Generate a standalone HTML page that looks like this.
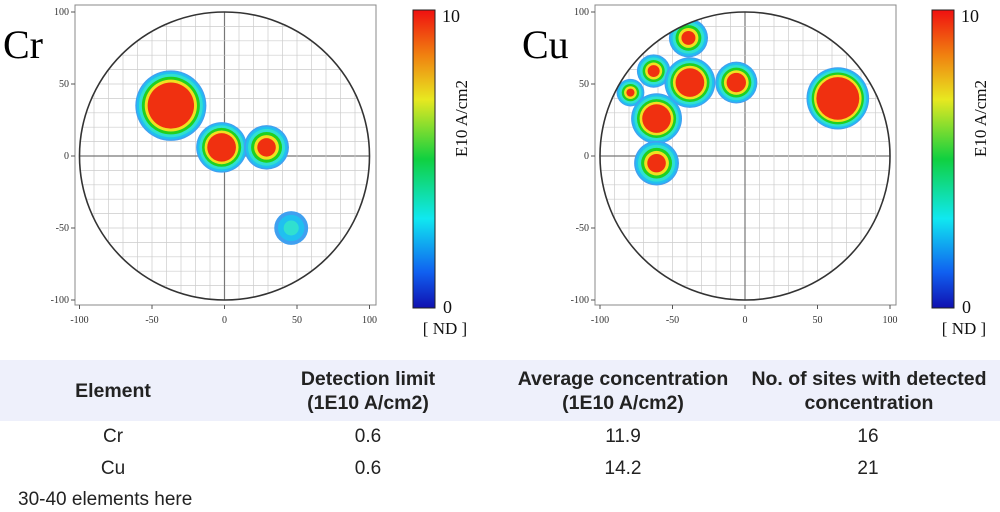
<!DOCTYPE html>
<html><head><meta charset="utf-8"><style>
body{margin:0;width:1000px;height:512px;background:#fff;overflow:hidden;font-family:"Liberation Sans",sans-serif;}
svg text{font-family:"Liberation Serif",serif;}
.tbl{position:absolute;left:0;top:360px;width:1000px;}
.hdr{position:absolute;top:0;left:0;width:1000px;height:61px;background:#eef0fb;}
.c{position:absolute;text-align:center;font-size:19px;color:#222;}
.h{font-weight:bold;line-height:24px;font-size:19.5px;}
</style></head><body>
<svg id="svg" width="1000" height="355" style="position:absolute;left:0;top:0"></svg>
<div class="tbl">
 <div class="hdr"></div>
 <div class="c h" style="left:13px;width:200px;top:19px">Element</div>
 <div class="c h" style="left:248px;width:240px;top:7px">Detection limit<br>(1E10 A/cm2)</div>
 <div class="c h" style="left:488px;width:270px;top:7px">Average concentration<br>(1E10 A/cm2)</div>
 <div class="c h" style="left:738px;width:262px;top:7px">No. of sites with detected<br>concentration</div>
 <div class="c" style="left:13px;width:200px;top:66px">Cr</div>
 <div class="c" style="left:268px;width:200px;top:66px">0.6</div>
 <div class="c" style="left:523px;width:200px;top:66px">11.9</div>
 <div class="c" style="left:768px;width:200px;top:66px">16</div>
 <div class="c" style="left:13px;width:200px;top:98px">Cu</div>
 <div class="c" style="left:268px;width:200px;top:98px">0.6</div>
 <div class="c" style="left:523px;width:200px;top:98px">14.2</div>
 <div class="c" style="left:768px;width:200px;top:98px">21</div>
 <div class="c" style="left:18px;top:129px;text-align:left">30-40 elements here</div>
</div>
<script>
const crX=[-37,-2,29,46];
const crY=[35,6,6,-50];
const crPeak=[20,16,12,4];
const crSize=[25,18,16,13];
const cuX=[-39,-63,-79,-38,-6,-61,-61,64];
const cuY=[82,59,44,51,51,26,-5,40];
const cuPeak=[11,11,10,16,13,16,12,22];
const cuSize=[14,12,10,18,15,18,16,22];
const ticks=[-100,-50,0,50,100];
const NS="http://www.w3.org/2000/svg";
const svg=document.getElementById('svg');
function mk(t,a,p){const e=document.createElementNS(NS,t);for(const k in a)e.setAttribute(k,a[k]);(p||svg).appendChild(e);return e;}
const levels=[0.5,1.5,3,5,7,9];
const lcol=['#40a0f0','#20c0f0','#30e0d0','#20d020','#f0e020','#f03010'];
function chart(id,off,name,xs,ys,pk,sz,x0,bx0,bx1){
  const sc=1.45, y0=156, sy=1.44;
  const X=v=>x0+v*sc, Y=v=>y0-v*sy;
  const g=mk('g',{});
  
  
  const fr=mk('rect',{x:bx0,y:5,width:bx1-bx0,height:300,fill:'#fff',stroke:'#888','stroke-width':1},g);
  
  
  mk('clipPath',{id:'cp'+id},g);
  mk('ellipse',{cx:X(0),cy:Y(0),rx:100*sc,ry:100*sy},document.getElementById('cp'+id));
  const gg=mk('g',{'clip-path':'url(#cp'+id+')'},g);
  for(let v=-100;v<=100;v+=10){
    mk('line',{x1:X(v),x2:X(v),y1:Y(100),y2:Y(-100),stroke:v==0?'#777':'#ccc','stroke-width':v==0?1.2:0.7},gg);
    mk('line',{y1:Y(v),y2:Y(v),x1:X(-100),x2:X(100),stroke:v==0?'#777':'#ccc','stroke-width':v==0?1.2:0.7},gg);
  }
  for(let i=0;i<xs.length;i++){
    const bl=mk('g',{},gg);
    
    
    for(let k=0;k<levels.length;k++){
      if(pk[i]<levels[k])break;
      const r=sz[i]*(1-levels[k]/(pk[i]*1.25));
      mk('ellipse',{cx:X(xs[i]),cy:Y(ys[i]),rx:r*sc,ry:r*sy,fill:lcol[k]},bl);
    }
  }
  const c=mk('ellipse',{cx:X(0),cy:Y(0),rx:100*sc,ry:100*sy,fill:'none',stroke:'#333','stroke-width':1.6},g);
  
  
  ticks.forEach(t=>{
    mk('line',{x1:X(t),x2:X(t),y1:305,y2:309,stroke:'#555'},g);
    const tx=mk('text',{x:X(t),y:323,'font-size':10,'text-anchor':'middle',fill:'#333'},g);tx.textContent=t;
    
    
    mk('line',{x1:bx0-4,x2:bx0,y1:Y(t),y2:Y(t),stroke:'#555'},g);
    const ty=mk('text',{x:bx0-6,y:Y(t)+3,'font-size':10,'text-anchor':'end',fill:'#333'},g);ty.textContent=t;
    
    
  });
  const lb=mk('text',{x:off+3,y:58,'font-size':40,fill:'#000'},g);lb.textContent=name;
  
  
  const cbx=off+413;
  mk('linearGradient',{id:'cb'+id,x1:0,y1:1,x2:0,y2:0},g);
  const lg=document.getElementById('cb'+id);
  [['0','#1010b0'],['0.12','#1060f0'],['0.3','#10e8f0'],['0.5','#10d040'],['0.7','#e8e820'],['0.85','#f08010'],['1','#f01010']].forEach(s=>mk('stop',{offset:s[0],'stop-color':s[1]},lg));
  const cb=mk('rect',{x:cbx,y:10,width:22,height:298,fill:'url(#cb'+id+')',stroke:'#222','stroke-width':1},g);
  
  
  const t10=mk('text',{x:cbx+29,y:22,'font-size':18,fill:'#111'},g);t10.textContent='10';
  
  
  const t0=mk('text',{x:cbx+30,y:313,'font-size':18,fill:'#111'},g);t0.textContent='0';
  
  
  const nd=mk('text',{x:cbx+32,y:334,'font-size':17,'text-anchor':'middle',fill:'#111'},g);nd.textContent='[ ND ]';
  
  
  const un=mk('text',{x:cbx+54,y:157,'font-size':17,fill:'#111',transform:'rotate(-90 '+(cbx+54)+' 157)'},g);un.textContent='E10 A/cm2';
  
  
}
chart('cr',0,'Cr',crX,crY,crPeak,crSize,224.5,75,376);
chart('cu',519,'Cu',cuX,cuY,cuPeak,cuSize,745,595,896);
</script>
</body></html>
